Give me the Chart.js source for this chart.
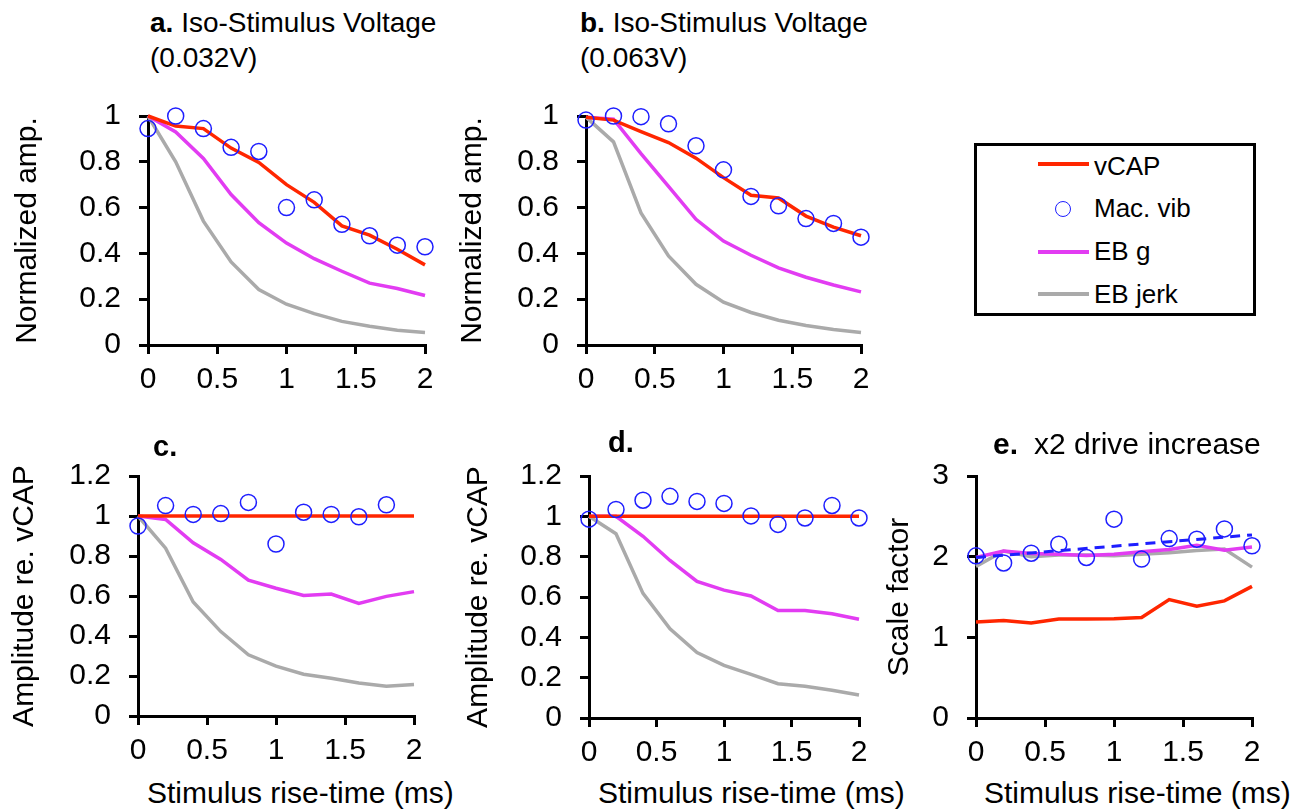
<!DOCTYPE html>
<html>
<head>
<meta charset="utf-8">
<script src="https://cdn.jsdelivr.net/npm/chart.js@4.4.1/dist/chart.umd.min.js"></script>
<style>
  body { margin: 0; background: #fff; font-family: "Liberation Sans", Arial, sans-serif; }
  #page { position: relative; width: 1309px; height: 811px; overflow: hidden; background: #fff; }
  .panel { position: absolute; }
  .txt { position: absolute; line-height: 1; white-space: nowrap; color: #000; }
  .ttl { position: absolute; font-size: 28px; line-height: 35px; white-space: nowrap; color: #000; }
  .xt { font-size: 30px; top: 778px; }
  #legendBox { position: absolute; left: 974px; top: 143px; width: 282px; height: 173px; border: 3px solid #000; box-sizing: border-box; }
  .lgLine { position: absolute; left: 1038px; width: 51px; height: 4px; }
  .lgTxt { font-size: 26px; left: 1094px; }
</style>
</head>
<body>
<div id="page">
  <div class="ttl" style="left:150px; top:5px;"><b>a.</b> Iso-Stimulus Voltage<br>(0.032V)</div>
  <div class="ttl" style="left:580px; top:5px;"><b>b.</b> Iso-Stimulus Voltage<br>(0.063V)</div>

  <div class="panel" id="pa"><canvas id="ca"></canvas></div>
  <div class="panel" id="pb"><canvas id="cb"></canvas></div>
  <div class="panel" id="pc"><canvas id="cc"></canvas></div>
  <div class="panel" id="pd"><canvas id="cd"></canvas></div>
  <div class="panel" id="pe"><canvas id="ce"></canvas></div>

  <div class="txt" style="left:153px; top:432px; font-size:29px; font-weight:bold;">c.</div>
  <div class="txt" style="left:608px; top:428px; font-size:29px; font-weight:bold;">d.</div>
  <div class="txt" style="left:993px; top:429px; font-size:30px;"><b>e.</b></div>
  <div class="txt" style="left:1034px; top:429px; font-size:30px;">x2 drive increase</div>

  <div class="txt xt" style="left:147px;">Stimulus rise-time (ms)</div>
  <div class="txt xt" style="left:598px;">Stimulus rise-time (ms)</div>
  <div class="txt xt" style="left:984px;">Stimulus rise-time (ms)</div>

  <div id="legendBox"></div>
  <div class="lgLine" style="top:162px; background:#ff2600;"></div>
  <div style="position:absolute; left:1055px; top:201px; width:16px; height:16px; border:1.5px solid #1e1eff; border-radius:50%; box-sizing:border-box;"></div>
  <div class="lgLine" style="top:250px; background:#e23cf2;"></div>
  <div class="lgLine" style="top:292px; background:#aaaaaa;"></div>
  <div class="txt lgTxt" style="top:153px;">vCAP</div>
  <div class="txt lgTxt" style="top:195px;">Mac. vib</div>
  <div class="txt lgTxt" style="top:238px;">EB g</div>
  <div class="txt lgTxt" style="top:281px;">EB jerk</div>
</div>

<script>
// stimulus rise-time (ms)
const riseTime = [0, 0.2, 0.4, 0.6, 0.8, 1.0, 1.2, 1.4, 1.6, 1.8, 2.0];

// a. iso-stimulus 0.032V
const aVcap = [1.0, 0.956, 0.945, 0.86, 0.797, 0.70, 0.623, 0.52, 0.48, 0.418, 0.35];
const aMac  = [0.945, 1.0, 0.945, 0.863, 0.845, 0.60, 0.634, 0.527, 0.477, 0.436, 0.429];
const aEbg  = [1.0, 0.93, 0.815, 0.657, 0.534, 0.445, 0.377, 0.322, 0.27, 0.247, 0.216];
const aJerk = [1.0, 0.80, 0.541, 0.363, 0.242, 0.178, 0.137, 0.103, 0.082, 0.064, 0.055];

// b. iso-stimulus 0.063V
const bVcap = [0.995, 0.982, 0.932, 0.884, 0.816, 0.731, 0.654, 0.642, 0.563, 0.515, 0.477];
const bMac  = [0.982, 1.0, 0.997, 0.966, 0.87, 0.765, 0.649, 0.608, 0.552, 0.531, 0.471];
const bEbg  = [0.995, 0.986, 0.836, 0.693, 0.549, 0.454, 0.392, 0.337, 0.296, 0.262, 0.232];
const bJerk = [0.995, 0.887, 0.577, 0.389, 0.265, 0.187, 0.142, 0.108, 0.085, 0.068, 0.055];

// c. amplitude re. vCAP (0.032V)
const cVcap = [1, 1, 1, 1, 1, 1, 1, 1, 1, 1, 1];
const cMac  = [0.95, 1.052, 1.008, 1.012, 1.068, 0.86, 1.019, 1.008, 0.996, 1.056, null];
const cEbg  = [1.0, 0.983, 0.866, 0.783, 0.679, 0.639, 0.603, 0.61, 0.563, 0.598, 0.622];
const cJerk = [1.0, 0.839, 0.57, 0.422, 0.306, 0.249, 0.209, 0.189, 0.165, 0.149, 0.157];

// d. amplitude re. vCAP (0.063V)
const dVcap = [1, 1, 1, 1, 1, 1, 1, 1, 1, 1, 1];
const dMac  = [0.986, 1.034, 1.08, 1.099, 1.074, 1.064, 1.002, 0.96, 0.992, 1.054, 0.992];
const dEbg  = [1.0, 1.0, 0.901, 0.781, 0.677, 0.634, 0.605, 0.533, 0.533, 0.517, 0.49];
const dJerk = [1.0, 0.914, 0.618, 0.442, 0.325, 0.261, 0.216, 0.17, 0.157, 0.138, 0.114];

// e. scale factor for x2 drive increase
const eVcap = [1.19, 1.21, 1.178, 1.226, 1.226, 1.23, 1.247, 1.468, 1.387, 1.452, 1.632];
const eMac  = [2.01, 1.922, 2.043, 2.155, 1.99, 2.465, 1.97, 2.224, 2.216, 2.344, 2.135];
const eEbg  = [1.99, 2.07, 2.04, 2.03, 2.015, 2.03, 2.06, 2.09, 2.14, 2.08, 2.12];
const eJerk = [1.88, 2.07, 2.0, 2.02, 2.02, 2.01, 2.03, 2.05, 2.075, 2.095, 1.87];
const eFitX = [0, 2];
const eFit  = [1.99, 2.27];

const RED = '#ff2600', MAG = '#e23cf2', GRAY = '#aaaaaa', BLUE = '#1e1eff';

Chart.defaults.font.family = '"Liberation Sans", Arial, sans-serif';
Chart.defaults.color = '#000';

// plain number labels: 1 not 1.0
const plainTick = (v) => String(Number(v.toFixed(2)));

function pts(xs, ys) {
    return ys.map((y, i) => ({x: xs[i], y: y}));
}

function lineSet(ys, color) {
    return {
        data: pts(riseTime, ys),
        borderColor: color,
        borderWidth: 3.5,
        pointRadius: 0,
        tension: 0,
        fill: false,
        clip: false
    };
}

function macSet(ys) {
    return {
        data: pts(riseTime, ys),
        showLine: false,
        pointRadius: 8,
        pointBorderWidth: 1.5,
        pointBorderColor: BLUE,
        pointBackgroundColor: 'rgba(0,0,0,0)',
        clip: false
    };
}

function makePanel(divId, canvasId, box, area, yMax, yStep, yTitle, titlePad, datasets) {
    const div = document.getElementById(divId);
    div.style.left = box.left + 'px';
    div.style.top = box.top + 'px';
    div.style.width = box.width + 'px';
    div.style.height = box.height + 'px';

    new Chart(document.getElementById(canvasId), {
        type: 'line',
        data: { datasets: datasets },
        options: {
            responsive: true,
            maintainAspectRatio: false,
            animation: false,
            layout: {
                padding: {
                    left: 0,
                    top: area.top - box.top,
                    right: box.left + box.width - area.right,
                    bottom: 0
                }
            },
            plugins: {
                legend: { display: false },
                tooltip: { enabled: false }
            },
            scales: {
                x: {
                    type: 'linear',
                    min: 0,
                    max: 2,
                    ticks: { stepSize: 0.5, font: { size: 30 }, padding: 8, autoSkip: false, maxRotation: 0, callback: plainTick },
                    grid: { drawOnChartArea: false, color: '#000', lineWidth: 3, tickLength: 9 },
                    border: { color: '#000', width: 3 },
                    afterFit: (s) => { s.height = box.top + box.height - area.bottom; }
                },
                y: {
                    min: 0,
                    max: yMax,
                    ticks: { stepSize: yStep, font: { size: 30 }, padding: 18, callback: plainTick },
                    grid: { drawOnChartArea: false, color: '#000', lineWidth: 3, tickLength: 9 },
                    border: { color: '#000', width: 3 },
                    title: { display: true, text: yTitle, font: { size: 30 }, padding: { top: titlePad, bottom: 0 } },
                    afterFit: (s) => { s.width = area.left - box.left; }
                }
            }
        }
    });
}

makePanel('pa', 'ca', {left: 0, top: 80, width: 470, height: 320},
    {left: 148, top: 102, right: 425, bottom: 345}, 1, 0.2, 'Normalized amp.', 10,
    [macSet(aMac), lineSet(aVcap, RED), lineSet(aEbg, MAG), lineSet(aJerk, GRAY)]);

makePanel('pb', 'cb', {left: 440, top: 80, width: 470, height: 320},
    {left: 586, top: 102, right: 861, bottom: 345}, 1, 0.2, 'Normalized amp.', 15,
    [macSet(bMac), lineSet(bVcap, RED), lineSet(bEbg, MAG), lineSet(bJerk, GRAY)]);

makePanel('pc', 'cc', {left: 0, top: 440, width: 460, height: 330},
    {left: 138, top: 467, right: 414, bottom: 716}, 1.2, 0.2, 'Amplitude re. vCAP', 7,
    [macSet(cMac), lineSet(cVcap, RED), lineSet(cEbg, MAG), lineSet(cJerk, GRAY)]);

makePanel('pd', 'cd', {left: 440, top: 440, width: 460, height: 330},
    {left: 589, top: 468, right: 859, bottom: 718}, 1.2, 0.2, 'Amplitude re. vCAP', 21,
    [macSet(dMac), lineSet(dVcap, RED), lineSet(dEbg, MAG), lineSet(dJerk, GRAY)]);

const fitSet = {
    data: pts(eFitX, eFit),
    borderColor: BLUE,
    borderWidth: 3,
    borderDash: [10, 7],
    pointRadius: 0,
    fill: false,
    clip: false
};

makePanel('pe', 'ce', {left: 880, top: 440, width: 429, height: 330},
    {left: 976, top: 469, right: 1252, bottom: 718}, 3, 1, 'Scale factor', 2,
    [fitSet, macSet(eMac), lineSet(eVcap, RED), lineSet(eEbg, MAG), lineSet(eJerk, GRAY)]);
</script>
</body>
</html>
